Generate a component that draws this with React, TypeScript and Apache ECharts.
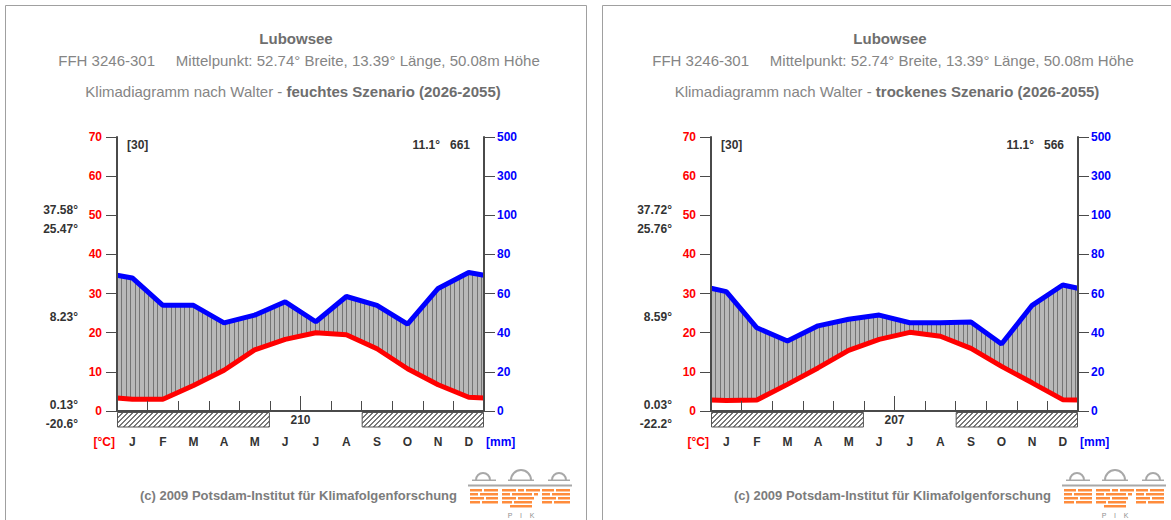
import React, { useEffect, useRef } from 'react';
import * as echarts from 'echarts';

// ---------- data ----------
const MONTHS = ['J', 'F', 'M', 'A', 'M', 'J', 'J', 'A', 'S', 'O', 'N', 'D'];

// feuchtes Szenario (left)
const TEMP_WET = [3.0, 3.0, 6.5, 10.4, 15.6, 18.3, 20.0, 19.5, 15.9, 10.8, 6.7, 3.5];
const PREC_WET = [68, 54, 54, 45, 49, 55.8, 45.6, 58.5, 54, 44.4, 62.6, 70.8];
const TEMP_WET_EDGE = 3.3;
const PREC_WET_EDGE = 69.4;

// trockenes Szenario (right)
const TEMP_DRY = [2.7, 2.8, 6.8, 11.0, 15.5, 18.3, 20.1, 19.1, 16.0, 11.4, 7.2, 2.9];
const PREC_DRY = [61, 42.5, 35.8, 43.5, 46.9, 49, 45.1, 45.1, 45.5, 34.2, 54, 64.4];
const TEMP_DRY_EDGE = 2.8;
const PREC_DRY_EDGE = 62.7;

// frost months (start month index, end month index)
const FROST_WET = [[0, 5], [8, 12]];
const FROST_DRY = [[0, 5], [8, 12]];
const FROST_FREE_DAYS = [210, 207];

const STATS_WET = ['37.58°', '25.47°', '8.23°', '0.13°', '-20.6°'];
const STATS_DRY = ['37.72°', '25.76°', '8.59°', '0.03°', '-22.2°'];
const HEADER_LEFT = ['[30]', '[30]'];
const HEADER_RIGHT = ['11.1°   661', '11.1°   566'];
const SCENARIOS = ['feuchtes Szenario (2026-2055)', 'trockenes Szenario (2026-2055)'];
const STATION = 'Lubowsee';
const SUBTITLE = 'FFH 3246-301     Mittelpunkt: 52.74° Breite, 13.39° Länge, 50.08m Höhe';
const FOOTER = '(c) 2009 Potsdam-Institut für Klimafolgenforschung';

// ---------- helpers ----------
const FONT = '"Liberation Sans", Arial, sans-serif';
const NARROW = '"Liberation Sans Narrow", "Liberation Sans", Arial, sans-serif';
const AX = '#4a4a4a';

// precipitation (mm) -> temperature axis units (Walter scale: 20 mm = 10°C, compressed above 100)
const precToAxis = (p: number) => (p <= 100 ? p / 2 : 50 + (p - 100) / 20);
const axisToPrecLabel = (v: number) => (v <= 50 ? v * 2 : 100 + (v - 50) * 20);

function points(vals: number[], edge: number, conv: (v: number) => number) {
  const out: number[][] = [[0, conv(edge)]];
  vals.forEach((v, i) => out.push([i + 0.5, conv(v)]));
  out.push([12, conv(edge)]);
  return out;
}

function makeCanvas(w: number, h: number, draw: (ctx: CanvasRenderingContext2D) => void) {
  const c = document.createElement('canvas');
  c.width = w;
  c.height = h;
  const ctx = c.getContext('2d')!;
  draw(ctx);
  return c;
}

export default function App() {
  const ref = useRef<HTMLDivElement>(null);

  useEffect(() => {
    if (!ref.current) return;
    const chart = echarts.init(ref.current, undefined, { renderer: 'svg' });

    const hatchCanvas = makeCanvas(9, 4, (ctx) => {
      ctx.fillStyle = '#b8b8b8';
      ctx.fillRect(0, 0, 9, 4);
      ctx.fillStyle = '#747474';
      ctx.fillRect(0, 0, 1, 4);
      ctx.fillRect(4, 0, 1, 4);
    });
    const frostCanvas = makeCanvas(5, 5, (ctx) => {
      ctx.fillStyle = '#ffffff';
      ctx.fillRect(0, 0, 5, 5);
      ctx.fillStyle = '#787878';
      for (let i = 0; i < 5; i++) {
        ctx.fillRect((4 - i + 5) % 5, i, 1, 1);
        ctx.fillRect((5 - i) % 5, i, 1, 1);
      }
    });
    const hatch: any = { image: hatchCanvas.toDataURL(), repeat: 'repeat', imageWidth: 9, imageHeight: 4 };
    const frostPat: any = { image: frostCanvas.toDataURL(), repeat: 'repeat', imageWidth: 5, imageHeight: 5 };

    const panels = [
      { temp: TEMP_WET, prec: PREC_WET, tEdge: TEMP_WET_EDGE, pEdge: PREC_WET_EDGE, frost: FROST_WET, stats: STATS_WET },
      { temp: TEMP_DRY, prec: PREC_DRY, tEdge: TEMP_DRY_EDGE, pEdge: PREC_DRY_EDGE, frost: FROST_DRY, stats: STATS_DRY },
    ];
    const DX = [0, 594];

    const grid: any[] = [];
    const xAxis: any[] = [];
    const yAxis: any[] = [];
    const series: any[] = [];
    const graphic: any[] = [];

    panels.forEach((p, g) => {
      grid.push({ left: 117 + DX[g], top: 137, width: 367, height: 274, containLabel: false });
      xAxis.push({
        type: 'value', gridIndex: g, min: 0, max: 12, interval: 1, z: 5,
        axisLine: { show: true, onZero: false, lineStyle: { color: AX, width: 2 } },
        axisTick: { show: true, inside: true, length: 10, lineStyle: { color: AX, width: 1 } },
        axisLabel: { show: false }, splitLine: { show: false },
      });
      xAxis.push({
        type: 'category', gridIndex: g, data: MONTHS, position: 'bottom', offset: 20,
        axisLine: { show: false }, axisTick: { show: false }, splitLine: { show: false },
        axisLabel: { margin: 5, color: '#333', fontWeight: 'bold', fontSize: 12, fontFamily: FONT },
      });
      yAxis.push({
        type: 'value', gridIndex: g, min: 0, max: 70, interval: 10, position: 'left', z: 5,
        axisLine: { show: true, lineStyle: { color: AX, width: 2 } },
        axisTick: { show: true, length: 11, lineStyle: { color: AX, width: 1 } },
        axisLabel: { margin: 15, color: '#ff0000', fontWeight: 'bold', fontSize: 12, fontFamily: FONT },
        splitLine: { show: false },
      });
      yAxis.push({
        type: 'value', gridIndex: g, min: 0, max: 70, interval: 10, position: 'right', z: 5,
        axisLine: { show: true, lineStyle: { color: AX, width: 2 } },
        axisTick: { show: true, length: 11, lineStyle: { color: AX, width: 1 } },
        axisLabel: {
          margin: 13, color: '#0000ff', fontWeight: 'bold', fontSize: 12, fontFamily: FONT,
          formatter: (v: number) => String(axisToPrecLabel(v)),
        },
        splitLine: { show: false },
      });

      series.push({
        type: 'line', name: 'Niederschlag', xAxisIndex: 2 * g, yAxisIndex: 2 * g,
        data: points(p.prec, p.pEdge, precToAxis), symbol: 'none', z: 2,
        lineStyle: { color: '#0000ff', width: 5 },
        areaStyle: { color: hatch, opacity: 1 },
      });
      series.push({
        type: 'line', name: 'Temperatur', xAxisIndex: 2 * g, yAxisIndex: 2 * g,
        data: points(p.temp, p.tEdge, (v) => v), symbol: 'none', z: 3,
        lineStyle: { color: '#ff0000', width: 5 },
        areaStyle: { color: '#ffffff', opacity: 1 },
      });
      series.push({
        type: 'custom', xAxisIndex: 2 * g, yAxisIndex: 2 * g, clip: false, z: 4,
        data: p.frost,
        renderItem: (_params: any, api: any) => {
          const a = api.coord([api.value(0), 0]);
          const b = api.coord([api.value(1), 0]);
          return {
            type: 'rect',
            shape: { x: a[0] + 0.5, y: a[1] + 1.5, width: b[0] - a[0] - 1, height: 14.5 },
            style: { fill: frostPat, stroke: '#555', lineWidth: 1 },
          };
        },
      });
      series.push({
        type: 'custom', xAxisIndex: 2 * g, yAxisIndex: 2 * g, clip: false, z: 6,
        data: [[6, FROST_FREE_DAYS[g]]],
        renderItem: (_params: any, api: any) => {
          const c = api.coord([api.value(0), 0]);
          return {
            type: 'group',
            children: [
              { type: 'line', shape: { x1: c[0], y1: c[1], x2: c[0], y2: c[1] - 15 }, style: { stroke: AX, lineWidth: 1 } },
              {
                type: 'text', x: c[0], y: c[1] + 9,
                style: { text: String(api.value(1)), fill: '#333', font: `bold 12px ${FONT}`, textAlign: 'center', textVerticalAlign: 'middle', verticalAlign: 'middle' },
              },
            ],
          };
        },
      });

      const dx = DX[g];
      const txt = (x: number, y: number, text: string, font: string, fill: string, align: string) => ({
        type: 'text', x, y, silent: true,
        style: { text, font, fill, textAlign: align, textVerticalAlign: 'middle', verticalAlign: 'middle' },
      });

      // panel frame
      graphic.push({ type: 'rect', shape: { x: 5.5 + dx + (g ? 3 : 0), y: 5.5, width: 581, height: 540 }, style: { fill: 'none', stroke: '#a0a0a0', lineWidth: 1 }, silent: true });
      graphic.push(txt(296 + dx, 38, STATION, `bold 15px ${NARROW}`, '#6e6e6e', 'center'));
      graphic.push(txt(299 + dx, 60, SUBTITLE, `15px ${NARROW}`, '#858585', 'center'));
      graphic.push({
        type: 'text', x: 293 + dx, y: 91, silent: true,
        style: {
          text: `{n|Klimadiagramm nach Walter - }{b|${SCENARIOS[g]}}`,
          textAlign: 'center', textVerticalAlign: 'middle', verticalAlign: 'middle',
          rich: {
            n: { fontSize: 15, fontFamily: NARROW, fill: '#858585' },
            b: { fontSize: 15, fontFamily: NARROW, fontWeight: 'bold', fill: '#6e6e6e' },
          },
        },
      });
      graphic.push(txt(127 + dx, 145, HEADER_LEFT[g], `bold 12px ${FONT}`, '#333', 'left'));
      graphic.push(txt(470 + dx, 145, HEADER_RIGHT[g], `bold 12px ${FONT}`, '#333', 'right'));
      const statY = [210, 229, 317, 405, 424];
      p.stats.forEach((s, i) => graphic.push(txt(78 + dx, statY[i], s, `bold 12px ${FONT}`, '#333', 'right')));
      graphic.push(txt(115 + dx, 442, '[°C]', `bold 12px ${FONT}`, '#ff0000', 'right'));
      graphic.push(txt(486 + dx, 442, '[mm]', `bold 12px ${FONT}`, '#0000ff', 'left'));
      graphic.push(txt(457 + dx, 495, FOOTER, `bold 13px ${FONT}`, '#7c7c7c', 'right'));

      // PIK logo
      const lx = 468 + dx;
      const ly = 466;
      const gray = '#a8a8a8';
      const orange = '#ff8c3c';
      const logo: any[] = [
        { type: 'rect', shape: { x: 0, y: 18.5, width: 104, height: 2 }, style: { fill: gray } },
        { type: 'arc', shape: { cx: 15, cy: 14, r: 7, startAngle: Math.PI, endAngle: 2 * Math.PI, clockwise: true }, style: { stroke: gray, lineWidth: 2, fill: 'none' } },
        { type: 'arc', shape: { cx: 53, cy: 14, r: 10, startAngle: Math.PI, endAngle: 2 * Math.PI, clockwise: true }, style: { stroke: gray, lineWidth: 2, fill: 'none' } },
        { type: 'arc', shape: { cx: 91, cy: 14, r: 7, startAngle: Math.PI, endAngle: 2 * Math.PI, clockwise: true }, style: { stroke: gray, lineWidth: 2, fill: 'none' } },
        { type: 'rect', shape: { x: 4, y: 13.5, width: 24, height: 1.5 }, style: { fill: gray } },
        { type: 'rect', shape: { x: 40, y: 13.5, width: 26, height: 1.5 }, style: { fill: gray } },
        { type: 'rect', shape: { x: 80, y: 13.5, width: 22, height: 1.5 }, style: { fill: gray } },
        {
          type: 'text', x: 53, y: 49,
          style: { text: 'P    I    K', font: `7px ${FONT}`, fill: '#909090', textAlign: 'center', textVerticalAlign: 'middle', verticalAlign: 'middle' },
        },
      ];
      const rows = [
        [[2, 12], [16, 14], [34, 14], [50, 6], [58, 14], [74, 12], [88, 14]],
        [[2, 8], [12, 18], [34, 8], [44, 20], [66, 4], [74, 8], [84, 18]],
        [[2, 14], [18, 12], [34, 14], [50, 16], [74, 14], [90, 12]],
        [[2, 10], [14, 16], [34, 10], [46, 18], [74, 10], [86, 16]],
        [[42, 22]],
      ];
      rows.forEach((r, ri) =>
        r.forEach(([x, w]) =>
          logo.push({ type: 'rect', shape: { x, y: 23 + ri * 4, width: w, height: 2.5 }, style: { fill: orange } }),
        ),
      );
      graphic.push({ type: 'group', x: lx, y: ly, silent: true, children: logo });
    });

    chart.setOption({
      animation: false,
      backgroundColor: '#ffffff',
      grid,
      xAxis,
      yAxis,
      series,
      graphic,
    });

    return () => chart.dispose();
  }, []);

  return <div ref={ref} style={{ position: 'absolute', left: 0, top: 0, width: 1171, height: 520 }} />;
}
